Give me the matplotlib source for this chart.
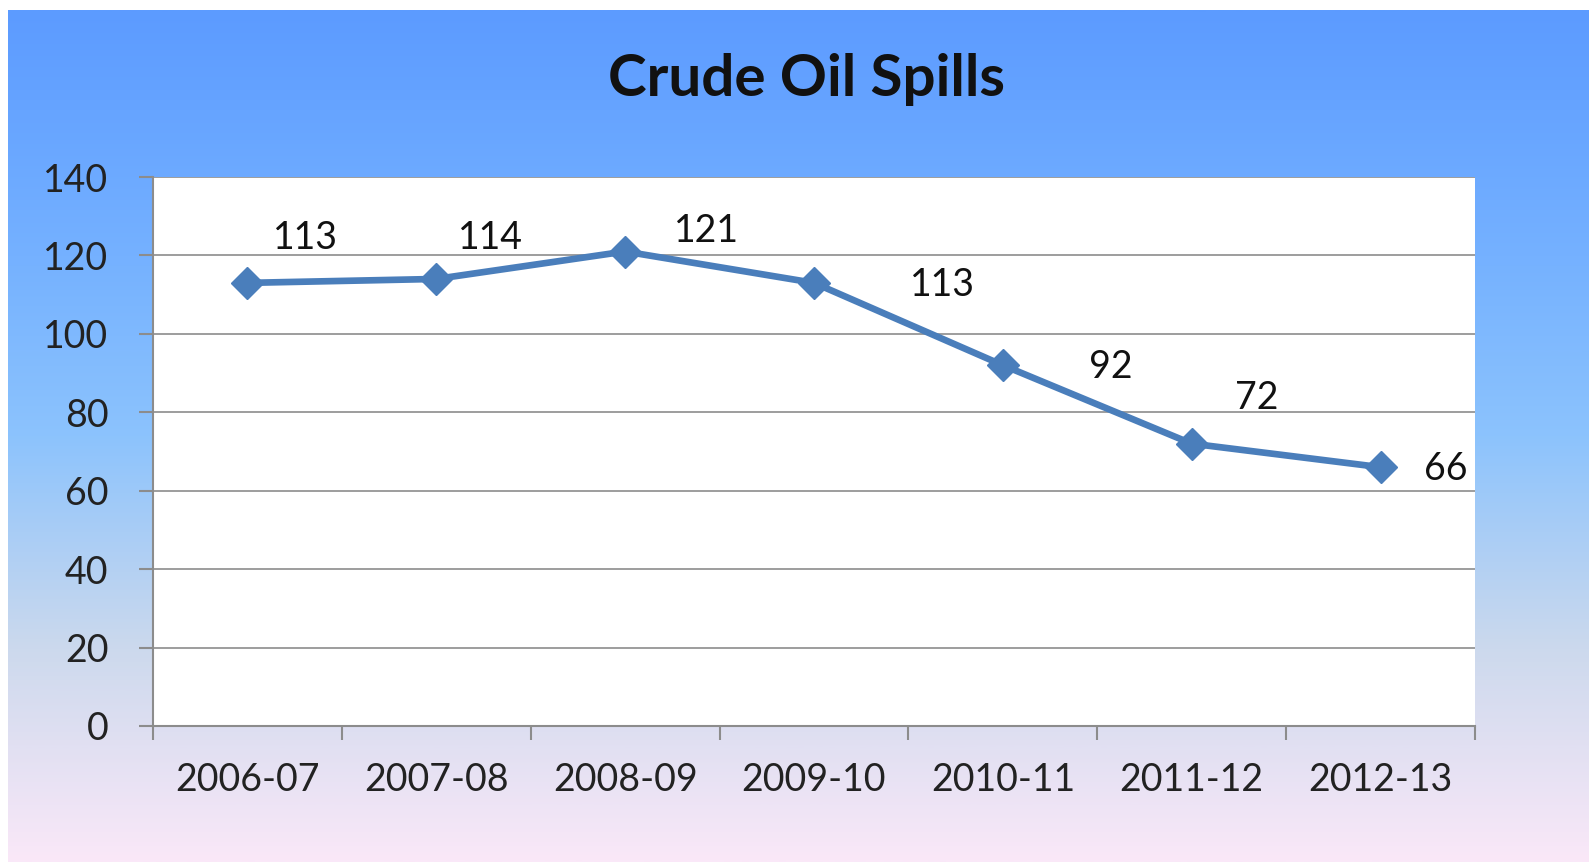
import numpy as np
import matplotlib.pyplot as plt
from matplotlib.colors import LinearSegmentedColormap

# Datos del gráfico
years = ['2006-07', '2007-08', '2008-09', '2009-10', '2010-11', '2011-12', '2012-13']
spills = [113, 114, 121, 113, 92, 72, 66]
# desplazamiento de cada etiqueta (pixeles)
label_offsets = [(58, 45), (54, 41), (81, 21), (128, -2), (108, -2), (65, 46), (65, -2)]

plt.rcParams['font.family'] = ['Lato', 'DejaVu Sans']

fig = plt.figure(figsize=(15.89, 8.64), dpi=100)
fig.patch.set_facecolor('white')

# Fondo degradado
bg = fig.add_axes([8 / 1589, 2 / 864, 1 - 8 / 1589, 1 - 12 / 864])
stops = [(0.0, (250/255, 232/255, 248/255)),
         (0.25, (204/255, 217/255, 237/255)),
         (0.5, (140/255, 195/255, 253/255)),
         (0.7, (118/255, 178/255, 255/255)),
         (1.0, (92/255, 155/255, 255/255))]
cmap = LinearSegmentedColormap.from_list('bg', stops)
grad = np.linspace(0, 1, 512).reshape(-1, 1)
bg.imshow(grad, aspect='auto', cmap=cmap, origin='lower', extent=[0, 1, 0, 1])
bg.set_axis_off()

ax = fig.add_axes([153 / 1589, 1 - 726 / 864, (1475 - 153) / 1589, (726 - 177) / 864])
ax.set_facecolor('white')

x = np.arange(len(years))
ax.plot(x, spills, color='#4a7ebb', linewidth=4.8, marker='D', markersize=16,
        markeredgewidth=1, markeredgecolor='#4a7ebb', zorder=3, clip_on=False)

for xi, v, (dx, dy) in zip(x, spills, label_offsets):
    ax.annotate(str(v), (xi, v), xytext=(dx, dy), textcoords='offset pixels',
                ha='center', va='center', fontsize=27, color='#111111')

ax.set_xlim(-0.5, len(years) - 0.5)
ax.set_ylim(0, 140)
ax.set_yticks(range(0, 141, 20))
ax.yaxis.grid(True, color='#8c8c8c', linewidth=1.2)
ax.set_axisbelow(True)

ax.set_xticks(np.arange(-0.5, len(years), 1))
ax.set_xticklabels([])
ax.set_xticks(x, minor=True)
ax.set_xticklabels(years, minor=True)
ax.tick_params(axis='x', which='major', length=10, width=1.5, color='#8c8c8c', direction='out')
ax.tick_params(axis='x', which='minor', length=0, pad=26, labelsize=27, labelcolor='#222222')
ax.tick_params(axis='y', length=10, width=1.5, color='#8c8c8c', labelsize=27,
               labelcolor='#222222', pad=22)

for s in ['top', 'right']:
    ax.spines[s].set_visible(False)
for s in ['left', 'bottom']:
    ax.spines[s].set_color('#8c8c8c')
    ax.spines[s].set_linewidth(1.5)

fig.text(807 / 1589, 1 - 80 / 864, 'Crude Oil Spills', ha='center', va='center',
         fontsize=42, fontweight='bold', color='#111111')

fig.savefig('out.png', dpi=100)
